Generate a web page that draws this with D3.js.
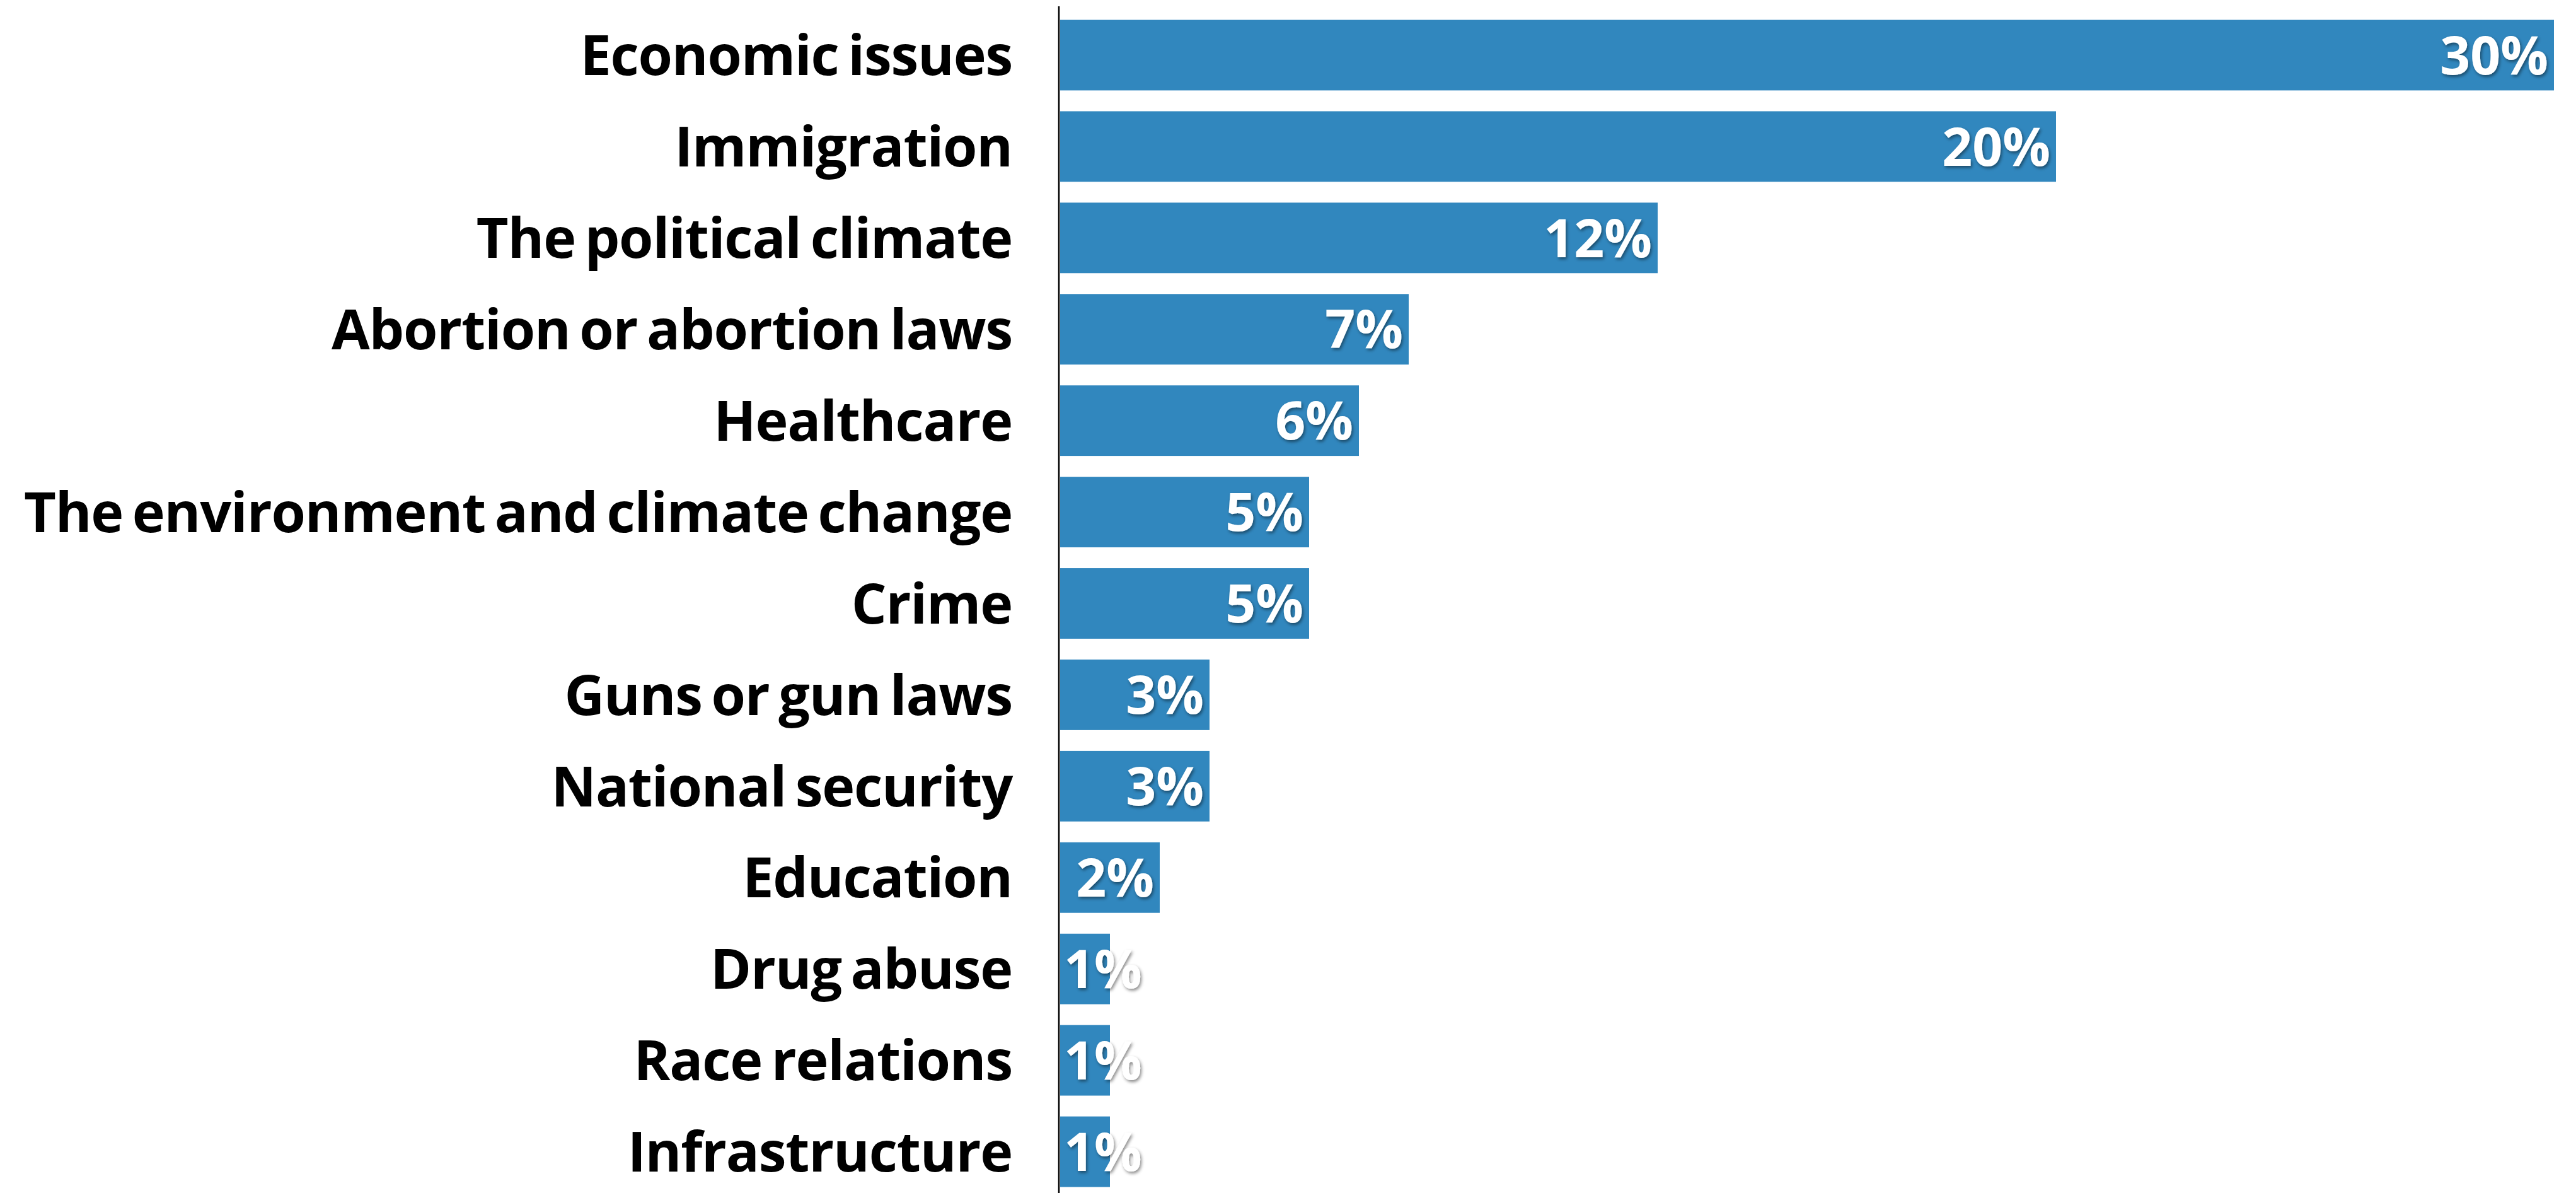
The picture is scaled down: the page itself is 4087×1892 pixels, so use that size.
<!DOCTYPE html>
<html>
<head>
<meta charset="utf-8">
<script src="https://cdn.jsdelivr.net/npm/d3@7"></script>
<style>
  html, body { margin: 0; padding: 0; background: #ffffff; }
  svg { display: block; }
</style>
</head>
<body>
<svg id="chart" width="4087" height="1892"></svg>
<script>
const categories = [
  "Economic issues",
  "Immigration",
  "The political climate",
  "Abortion or abortion laws",
  "Healthcare",
  "The environment and climate change",
  "Crime",
  "Guns or gun laws",
  "National security",
  "Education",
  "Drug abuse",
  "Race relations",
  "Infrastructure"
];
const values = [30, 20, 12, 7, 6, 5, 5, 3, 3, 2, 1, 1, 1];
const valueLabels = ["30%", "20%", "12%", "7%", "6%", "5%", "5%", "3%", "3%", "2%", "1%", "1%", "1%"];

const data = categories.map((c, i) => ({ cat: c, val: values[i], label: valueLabels[i] }));

const W = 4087, H = 1892;
const svg = d3.select("#chart");

const defs = svg.append("defs");
const f = defs.append("filter").attr("id", "shadow")
  .attr("x", "-20%").attr("y", "-20%").attr("width", "140%").attr("height", "140%");
f.append("feDropShadow").attr("dx", 2).attr("dy", 3).attr("stdDeviation", 2.5)
  .attr("flood-color", "#000").attr("flood-opacity", 0.45);

const x = d3.scaleLinear().domain([0, 30]).range([1682, 4052]);
const y = d3.scaleBand().domain(categories).range([15, 1899])
  .paddingInner(0.228).paddingOuter(0.114);

// bars
svg.append("g").selectAll("rect").data(data).join("rect")
  .attr("x", x(0))
  .attr("y", d => y(d.cat))
  .attr("width", d => x(d.val) - x(0))
  .attr("height", y.bandwidth())
  .attr("fill", "#3187be");

// axis (left, no ticks)
const axis = d3.axisLeft(y).tickSize(0).tickPadding(74);
const gAxis = svg.append("g").attr("transform", `translate(${x(0) - 2},0)`).call(axis);
gAxis.select(".domain").remove();
gAxis.selectAll("text")
  .attr("font-family", "'Open Sans', sans-serif")
  .attr("font-weight", 700)
  .attr("font-size", 88)
  .attr("letter-spacing", -1.2)
  .attr("word-spacing", -7)
  .attr("fill", "#000")
  .attr("dy", "0.36em");

svg.append("line")
  .attr("x1", x(0) - 2).attr("x2", x(0) - 2)
  .attr("y1", 10).attr("y2", H)
  .attr("stroke", "#000").attr("stroke-width", 2.5);

// value labels
const labels = svg.append("g").selectAll("text").data(data).join("text")
  .attr("font-family", "'Open Sans', sans-serif")
  .attr("font-weight", 700)
  .attr("font-size", 84)
  .attr("fill", "#ffffff")
  .attr("filter", "url(#shadow)")
  .attr("text-anchor", "end")
  .attr("y", d => y(d.cat) + y.bandwidth() / 2)
  .attr("dy", "0.36em")
  .text(d => d.label);

labels.each(function(d) {
  const w = this.getComputedTextLength();
  const xr = Math.max(x(d.val) - 9, x(0) + 6 + w);
  d3.select(this).attr("x", xr);
});
</script>
</body>
</html>
